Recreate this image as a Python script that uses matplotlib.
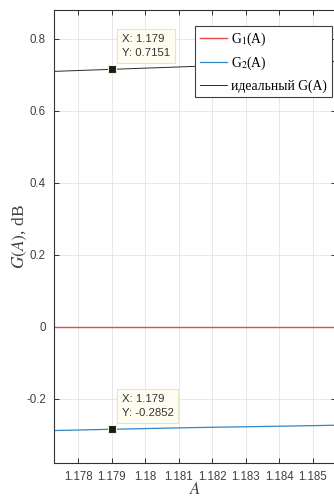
import matplotlib
matplotlib.use("Agg")
import matplotlib.pyplot as plt

plt.rcParams["mathtext.fontset"] = "stix"

# Amplitude samples and gain curves (dB)
A = [1.1772, 1.1790, 1.1816, 1.1840, 1.1860]
g1 = [0.0, 0.0, 0.0, 0.0, 0.0]
g2 = [-0.2890, -0.2852, -0.2803, -0.2768, -0.2735]
g_ideal = [0.7092, 0.7151, 0.7237, 0.7316, 0.7382]

xticks = [1.178, 1.179, 1.18, 1.181, 1.182, 1.183, 1.184, 1.185]
xticklabels = ["1.178", "1.179", "1.18", "1.181", "1.182", "1.183", "1.184", "1.185"]
yticks = [-0.2, 0, 0.2, 0.4, 0.6, 0.8]
yticklabels = ["-0.2", "0", "0.2", "0.4", "0.6", "0.8"]

tip_x = 1.179
tip_y_ideal = 0.7151
tip_y_g2 = -0.2852

W, H, DPI = 334, 497, 100
fig = plt.figure(figsize=(W / DPI, H / DPI), dpi=DPI)
ax = fig.add_axes([54.3 / W, 34 / H, (335.5 - 54.3) / W, (463 - 10) / H])

ax.plot(A, g1, color="#e8474c", lw=1.0, label=r"G$_\mathrm{1}$(A)")
ax.plot(A, g2, color="#2f86c8", lw=0.9, label=r"G$_\mathrm{2}$(A)")
ax.plot(A, g_ideal, color="#2a2a2a", lw=0.7, label="идеальный G(A)")

ax.set_xlim(1.17728, 1.18568)
ax.set_ylim(-0.379, 0.880)
ax.set_xticks(xticks)
ax.set_xticklabels(xticklabels)
ax.set_yticks(yticks)
ax.set_yticklabels(yticklabels)

ax.grid(True, color="#e4e4e4", lw=0.6)
ax.set_axisbelow(True)
ax.tick_params(direction="in", length=3.5, width=0.7, color="#333333",
               top=True, right=True, labelsize=8.3, labelcolor="#404040", pad=6)
for lab in ax.get_xticklabels() + ax.get_yticklabels():
    lab.set_family("Liberation Sans")
for sp in ax.spines.values():
    sp.set_color("#333333")
    sp.set_linewidth(0.8)

ax.set_ylabel("$G(A)$, dB", family="Liberation Serif", fontsize=12.5,
              color="#404040")
ax.yaxis.set_label_coords(-0.09, 0.5)
ax.set_xlabel("$A$", family="Liberation Serif", fontsize=12,
              color="#404040", labelpad=-1)

leg = ax.legend(loc="upper right", bbox_to_anchor=(331.5 / W, (497 - 26) / H),
                bbox_transform=fig.transFigure, prop={"family": "Liberation Serif", "size": 9.8},
                fancybox=False, framealpha=1, edgecolor="#404040",
                handlelength=2.0, handletextpad=0.25, borderpad=0.35,
                labelspacing=0.5, borderaxespad=0)
leg.get_frame().set_linewidth(0.8)

# Data tips
for ty in (tip_y_ideal, tip_y_g2):
    ax.plot([tip_x], [ty], marker="s", ms=6, color="#1a1a1a",
            mec="#f2f0d0", mew=0.8, zorder=5)
    ax.annotate(f"X: {tip_x:g}\nY: {ty:g}", xy=(tip_x, ty),
                xytext=(10, 11), textcoords="offset pixels",
                ha="left", va="bottom", fontsize=8.2, family="Liberation Sans",
                color="#333333", linespacing=1.55, zorder=6,
                bbox=dict(boxstyle="square,pad=0.4", fc="#fffdf0", ec="#e6e4cc", lw=0.8))

fig.savefig("out.png", dpi=DPI)
